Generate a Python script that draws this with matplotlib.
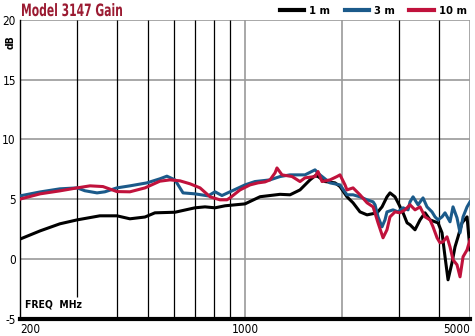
import matplotlib
matplotlib.use("Agg")
import matplotlib.pyplot as plt
from matplotlib.textpath import TextPath
from matplotlib.patches import PathPatch
from matplotlib.font_manager import FontProperties
from matplotlib.transforms import Affine2D

# gain vs frequency for three antenna distances
f_1m = [200, 231, 266, 301, 354, 400, 439, 489, 525, 606, 699, 751, 807, 867,
        1000, 1114, 1285, 1380, 1482, 1592, 1650, 1686, 1772, 1904, 1973, 2074,
        2166, 2276, 2394, 2572, 2665, 2761, 2821, 2924, 2989, 3098, 3188, 3256,
        3374, 3498, 3625, 3757, 3894, 3978, 4093, 4182, 4273, 4396, 4492, 4590,
        4722, 4896, 5000]
gain_1m = [1.65, 2.34, 2.93, 3.26, 3.6, 3.6, 3.35, 3.5, 3.85, 3.9, 4.27, 4.35,
           4.27, 4.44, 4.6, 5.2, 5.4, 5.36, 5.77, 6.61, 6.95, 6.89, 6.47, 6.36,
           6.05, 5.19, 4.69, 3.93, 3.68, 3.85, 4.35, 5.19, 5.52, 5.19, 4.69,
           3.85, 3.01, 2.85, 2.43, 3.26, 3.85, 3.26, 3.10, 3.01, 2.18, 0.17,
           -1.76, -0.33, 1.00, 1.84, 3.01, 3.51, 0.75]

f_3m = [200, 231, 266, 301, 318, 347, 367, 400, 439, 496, 544, 572, 606, 642,
        699, 768, 807, 848, 898, 1000, 1074, 1196, 1285, 1380, 1536, 1650, 1710,
        1837, 1973, 2074, 2166, 2276, 2394, 2500, 2535, 2590, 2665, 2722, 2761,
        2883, 2989, 3098, 3210, 3256, 3327, 3448, 3573, 3676, 3810, 3894, 3978,
        4093, 4182, 4334, 4428, 4556, 4656, 4758, 4896, 5000]
gain_3m = [5.27, 5.6, 5.86, 5.94, 5.7, 5.52, 5.61, 5.94, 6.11, 6.36, 6.7, 6.92,
           6.61, 5.52, 5.44, 5.27, 5.61, 5.3, 5.61, 6.19, 6.47, 6.61, 6.89,
           7.03, 7.03, 7.45, 7.03, 6.36, 6.19, 5.36, 5.36, 5.19, 4.94, 4.77,
           4.52, 3.51, 2.68, 3.26, 3.93, 4.10, 3.93, 4.27, 4.10, 4.77, 5.19,
           4.52, 5.10, 4.35, 3.93, 3.51, 3.26, 3.51, 3.85, 3.10, 4.35, 3.43,
           2.18, 3.51, 4.35, 4.77]

f_10m = [200, 231, 266, 301, 330, 362, 400, 439, 489, 544, 585, 628, 675, 725,
         779, 836, 879, 898, 965, 1037, 1098, 1154, 1196, 1240, 1257, 1303,
         1400, 1482, 1536, 1650, 1686, 1735, 1837, 1931, 1973, 2045, 2074, 2166,
         2276, 2394, 2500, 2590, 2684, 2761, 2821, 2924, 3031, 3141, 3256, 3374,
         3498, 3625, 3757, 3838, 3950, 4035, 4122, 4242, 4334, 4428, 4556, 4656,
         4758, 4896, 5000]
gain_10m = [5.0, 5.44, 5.69, 5.94, 6.11, 6.05, 5.63, 5.61, 5.94, 6.5, 6.61,
            6.53, 6.28, 5.94, 5.19, 4.94, 4.94, 5.10, 5.77, 6.19, 6.36, 6.44,
            6.61, 7.2, 7.61, 7.03, 6.89, 6.47, 6.78, 6.89, 7.31, 6.47, 6.61,
            6.89, 7.03, 6.19, 5.77, 5.94, 5.36, 4.69, 4.35, 3.01, 1.76, 2.43,
            3.51, 3.93, 3.85, 4.10, 4.52, 4.10, 4.35, 3.51, 3.26, 2.68, 1.76,
            1.34, 1.42, 1.84, 1.00, -0.08, -0.50, -1.51, 0.17, 0.75, 1.59]

series = [("1 m", f_1m, gain_1m, "black"),
          ("3 m", f_3m, gain_3m, "#1b5a8a"),
          ("10 m", f_10m, gain_10m, "#c0123c")]

yticks = [-5, 0, 5, 10, 15, 20]
xticks = [200, 1000, 5000]
grid_black = [300, 400, 500, 600, 700, 800, 900, 3000, 4000]
grid_gray = [1000, 2000, 5000]
title = "Model 3147 Gain"

plt.rcParams['font.family'] = ['DejaVu Sans']
plt.rcParams['font.stretch'] = 'condensed'

W, H = 475, 336
fig = plt.figure(figsize=(W / 100, H / 100), dpi=100)
ax = fig.add_axes([20 / W, 1 - 318.5 / H, 450 / W, 298.5 / H])
ax.set_xscale('log')
ax.set_xlim(200, 5000)
ax.set_ylim(-5, 20)

for y in yticks[1:]:
    ax.axhline(y, color='#9a9a9a', lw=1.2, zorder=1)
for x in grid_black:
    # the 300 line stops short to leave room for the axis caption
    ax.vlines(x, -3.2 if x == 300 else -5, 20, color='black', lw=0.9, zorder=1)
for x in grid_gray:
    ax.vlines(x, -5, 20, color='#9a9a9a', lw=1.2, zorder=1)

for name, f, g, c in series:
    assert len(f) == len(g)
    ax.plot(f, g, color=c, lw=2.2, label=name, zorder=3, solid_joinstyle='round')

for s in ['top', 'right']:
    ax.spines[s].set_visible(False)
ax.spines['left'].set_linewidth(1.0)
ax.spines['bottom'].set_linewidth(3.0)
ax.spines['bottom'].set_zorder(4)

ax.set_yticks(yticks)
ax.set_yticklabels([str(v) for v in yticks], fontsize=8.5)
ax.set_xticks(xticks)
ax.set_xticklabels([str(v) for v in xticks], fontsize=8.5)
ax.xaxis.set_minor_locator(matplotlib.ticker.NullLocator())
ax.tick_params(length=0, pad=3)
labels = ax.get_xticklabels()
labels[0].set_ha('left')
labels[-1].set_ha('right')

ax.text(0.012, 0.03, "FREQ  MHz", transform=ax.transAxes, fontsize=7.5,
        fontweight='bold', va='bottom', ha='left')
fig.text(11 / W, 1 - 42 / H, "dB", rotation=90, fontsize=7.5,
         fontweight='bold', ha='center', va='center')

# title squeezed into a narrow bold face
tp = TextPath((0, 0), title, size=17,
              prop=FontProperties(family='DejaVu Sans', weight='bold',
                                  stretch='condensed'))
ext = tp.get_extents()
sx = 100 / ext.width
trans = Affine2D().translate(-ext.x0, 0).scale(sx, 1).translate(22, H - 16)
fig.add_artist(PathPatch(tp, transform=trans, color='#9b1b32', lw=0))

leg = ax.legend(loc='upper right', bbox_to_anchor=(469 / W, 1 - 4 / H),
                bbox_transform=fig.transFigure, ncol=3, frameon=False,
                prop={'weight': 'bold', 'size': 8}, handlelength=2.2,
                handletextpad=0.45, columnspacing=1.3, borderpad=0.2,
                borderaxespad=0.0)
for line in leg.get_lines():
    line.set_linewidth(3.0)

fig.savefig("out.png", dpi=100)
